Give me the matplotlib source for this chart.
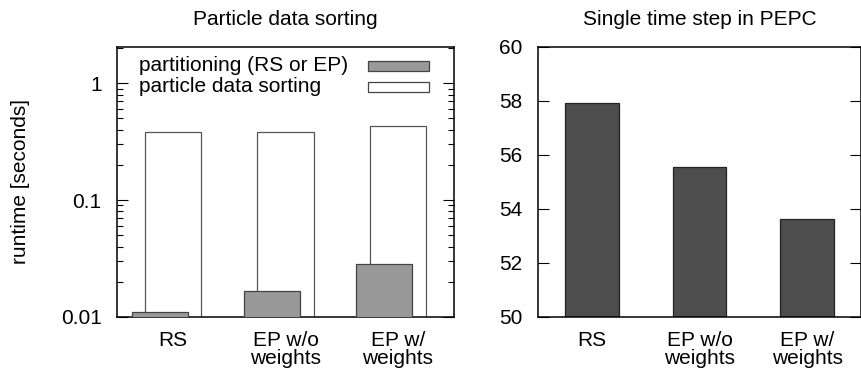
import numpy as np
import matplotlib
matplotlib.use('Agg')
import matplotlib.pyplot as plt
from matplotlib.patches import Rectangle
from matplotlib.ticker import LogLocator, FixedLocator, NullFormatter

plt.rcParams['font.family'] = ['Liberation Sans', 'DejaVu Sans']
plt.rcParams['font.size'] = 15

# データ
categories = ['RS', 'EP w/o\nweights', 'EP w/\nweights']
partitioning = [0.0111, 0.0166, 0.0284]
sorting = [0.379, 0.386, 0.434]
pepc_step = [57.94, 55.56, 53.63]

x = np.arange(len(categories))

fig = plt.figure(figsize=(8.62, 3.73), dpi=100)
ax1 = fig.add_axes([117 / 862, 56 / 373, 337 / 862, 270 / 373])
ax2 = fig.add_axes([538 / 862, 56 / 373, 323 / 862, 270 / 373])

# 左: 粒子データのソート
ax1.bar(x, sorting, width=0.5, color='white', edgecolor='#555555', linewidth=0.9, zorder=2)
ax1.bar(x - 0.12, partitioning, width=0.5, color='#999999', edgecolor='#444444', linewidth=0.9, zorder=3)
ax1.set_yscale('log')
ax1.set_ylim(0.01, 2.04)
ax1.set_xlim(-0.5, 2.5)
ax1.set_yticks([0.01, 0.1, 1])
ax1.set_yticklabels(['0.01', '0.1', '1'])
ax1.yaxis.set_minor_locator(LogLocator(base=10, subs=np.arange(2, 10)))
ax1.yaxis.set_minor_formatter(NullFormatter())
ax1.set_ylabel('runtime [seconds]', labelpad=22)
ax1.set_title('Particle data sorting', pad=16, fontsize=15)

# 凡例 (gnuplot風)
leg_labels = ['partitioning (RS or EP)', 'particle data sorting']
leg_colors = ['#999999', 'white']
leg_y = [0.93, 0.852]
for lab, col, yy in zip(leg_labels, leg_colors, leg_y):
    ax1.text(0.065, yy, lab, transform=ax1.transAxes, ha='left', va='center')
    ax1.add_patch(Rectangle((0.745, yy - 0.02), 0.181, 0.04, transform=ax1.transAxes,
                            facecolor=col, edgecolor='#444444', linewidth=0.9, zorder=4))

# 右: PEPCの1タイムステップ
ax2.bar(x, pepc_step, width=0.5, color='#4d4d4d', edgecolor='#222222', linewidth=0.9, zorder=2)
ax2.set_ylim(50, 60)
ax2.set_xlim(-0.5, 2.5)
ax2.yaxis.set_major_locator(FixedLocator([50, 52, 54, 56, 58, 60]))
ax2.set_title('Single time step in PEPC', pad=16, fontsize=15)

for ax in (ax1, ax2):
    ax.set_xticks(x)
    ax.set_xticklabels(categories, linespacing=0.95)
    ax.tick_params(axis='x', length=0, pad=10)
    ax.tick_params(axis='y', which='major', direction='in', length=8, width=0.8, left=True, right=True, pad=11)
    ax.tick_params(axis='y', which='minor', direction='in', length=4, width=0.8, left=True, right=True)
    for s in ax.spines.values():
        s.set_linewidth(1.1)

fig.savefig('out.png', dpi=100)
